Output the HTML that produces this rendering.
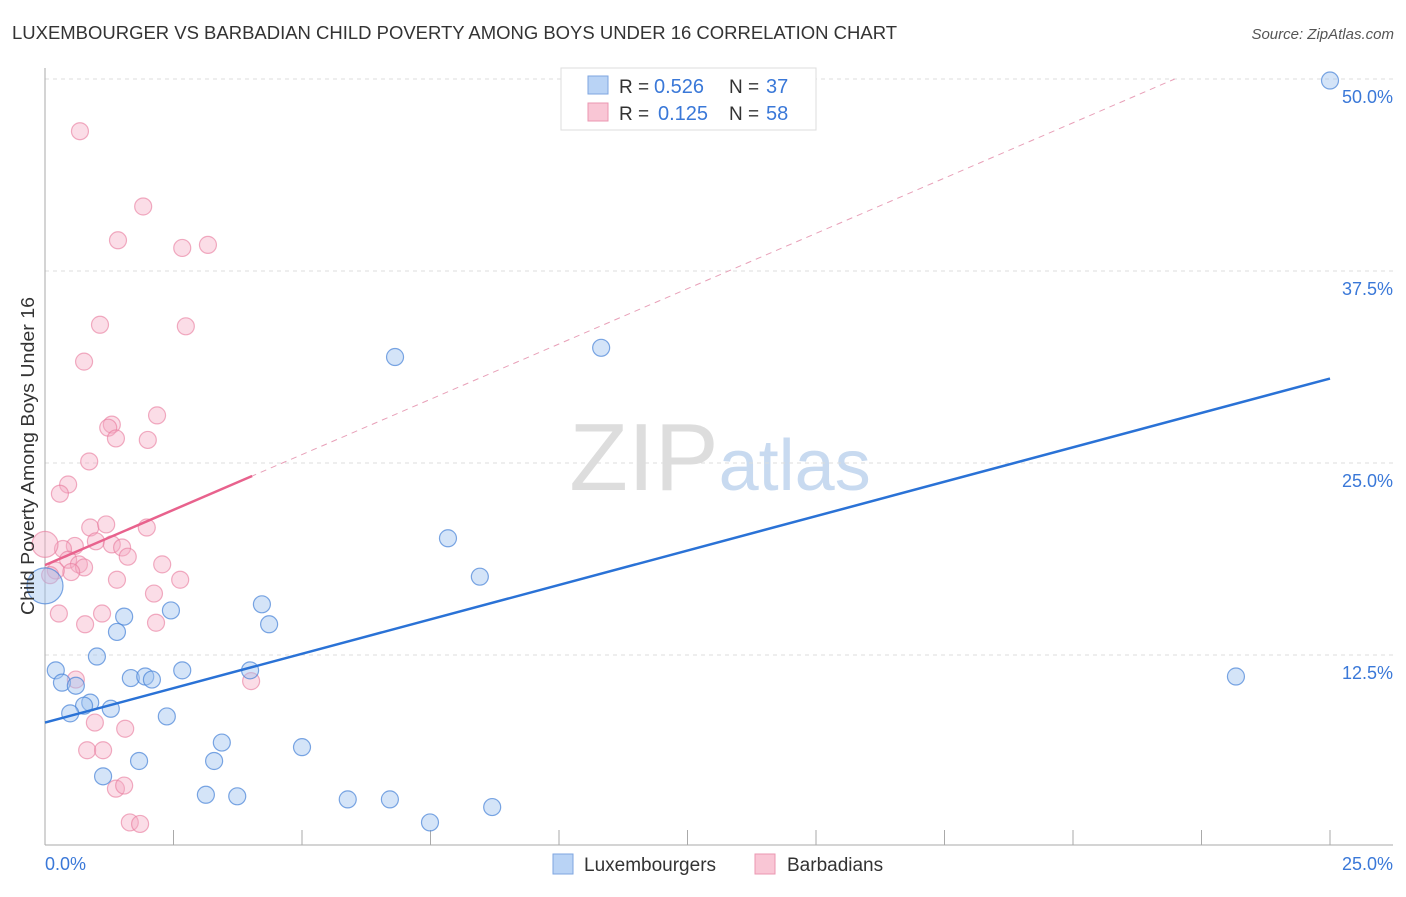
<!DOCTYPE html>
<html><head><meta charset="utf-8"><style>
body{margin:0;background:#fff;font-family:"Liberation Sans",sans-serif}
svg text{font-family:"Liberation Sans",sans-serif}
</style></head><body>
<svg id="chart" width="1406" height="892" viewBox="0 0 1406 892" xmlns="http://www.w3.org/2000/svg">
<text x="12" y="39" font-size="18" fill="#333" textLength="885" lengthAdjust="spacingAndGlyphs">LUXEMBOURGER VS BARBADIAN CHILD POVERTY AMONG BOYS UNDER 16 CORRELATION CHART</text>
<text x="1394" y="39" font-size="15" fill="#555" text-anchor="end" font-style="italic">Source: ZipAtlas.com</text>
<text x="720" y="490" font-size="96" fill="#ddd" text-anchor="middle" font-family="Liberation Serif">ZIP<tspan fill="#c8daf0" font-family="Liberation Sans" font-size="72">atlas</tspan></text>
<g id="grid"></g>
<g id="axes"></g>
<g id="marks"></g>
<text transform="translate(34,456) rotate(-90)" font-size="18" fill="#333" text-anchor="middle" textLength="318" lengthAdjust="spacingAndGlyphs">Child Poverty Among Boys Under 16</text>
<g>
<rect x="561" y="68" width="255" height="62" fill="#fff" stroke="#ddd"/>
<rect x="588" y="76" width="20" height="18" fill="#b9d3f5" stroke="#7ea6e0"/>
<rect x="588" y="103" width="20" height="18" fill="#f9c6d5" stroke="#eb97b1"/>
<text x="619" y="93" font-size="19" fill="#333">R =</text>
<text x="654" y="93" font-size="20" fill="#3a78d8">0.526</text>
<text x="729" y="93" font-size="19" fill="#333">N =</text>
<text x="766" y="93" font-size="20" fill="#3a78d8">37</text>
<text x="619" y="120" font-size="19" fill="#333">R =</text>
<text x="658" y="120" font-size="20" fill="#3a78d8">0.125</text>
<text x="729" y="120" font-size="19" fill="#333">N =</text>
<text x="766" y="120" font-size="20" fill="#3a78d8">58</text>
</g>
<g>
<rect x="553" y="854" width="20" height="20" fill="#b9d3f5" stroke="#7ea6e0"/>
<text x="584" y="871" font-size="19" fill="#333">Luxembourgers</text>
<rect x="755" y="854" width="20" height="20" fill="#f9c6d5" stroke="#eb97b1"/>
<text x="787" y="871" font-size="19" fill="#333">Barbadians</text>
</g>
</svg>
<script>
const blueX=[25.0,6.81,10.82,7.84,8.46,4.22,4.36,2.45,1.54,1.40,1.01,0.21,0.33,0.60,1.67,1.95,2.08,2.67,3.99,0.88,0.76,0.49,1.28,2.37,3.44,5.00,1.83,3.29,1.13,3.13,3.74,5.89,6.71,7.49,8.70,23.17,0];
const blueY=[49.9,31.9,32.5,20.1,17.6,15.8,14.5,15.4,15.0,14.0,12.4,11.5,10.7,10.5,11.0,11.1,10.9,11.5,11.5,9.4,9.2,8.7,9.0,8.5,6.8,6.5,5.6,5.6,4.6,3.4,3.3,3.1,3.1,1.6,2.6,11.1,17.0];
const pinkX=[0.68,1.91,1.42,2.67,3.17,1.07,2.74,0.76,2.18,1.30,1.23,1.38,2.00,0.86,0.45,0.29,0.88,1.19,1.98,0.99,1.30,1.50,1.61,0.58,0.35,0.45,0.66,0.76,0.51,0.21,0.10,2.28,1.40,2.63,2.12,0.27,1.11,0.78,2.16,4.01,0.60,0.97,1.56,0.82,1.13,1.38,1.54,1.65,1.85,0.0];
const pinkY=[46.6,41.7,39.5,39.0,39.2,34.0,33.9,31.6,28.1,27.5,27.3,26.6,26.5,25.1,23.6,23.0,20.8,21.0,20.8,19.9,19.7,19.5,18.9,19.6,19.4,18.7,18.4,18.2,17.9,18.0,17.7,18.4,17.4,17.4,16.5,15.2,15.2,14.5,14.6,10.8,10.9,8.1,7.7,6.3,6.3,3.8,4.0,1.6,1.5,19.7];
const yTicks=[12.5,25.0,37.5,50.0];
const xTickVals=[0,2.5,5,7.5,10,12.5,15,17.5,20,22.5,25];
const blueTrend=[8.1,30.5];
const pinkTrend=[18.35,1.44];
const NS="http://www.w3.org/2000/svg";
const sx=v=>45+v*1285/25, sy=v=>847-v*192/12.5;
function mk(tag,attrs,parent){const e=document.createElementNS(NS,tag);for(const k in attrs)e.setAttribute(k,attrs[k]);parent.appendChild(e);return e;}
const grid=document.getElementById('grid'),axes=document.getElementById('axes'),marks=document.getElementById('marks');
yTicks.forEach(t=>{
 const l=mk('line',{x1:45,x2:1393,y1:sy(t),y2:sy(t),stroke:'#ddd','stroke-dasharray':'4,4'},grid);
 
 
 const tx=mk('text',{x:1393,y:sy(t)+24,'font-size':18,fill:'#3a78d8','text-anchor':'end'},axes);
 tx.textContent=t.toFixed(1)+'%';
 
 
});
const ya=mk('line',{x1:45,x2:45,y1:68,y2:845,stroke:'#aaa'},axes);


const xa=mk('line',{x1:45,x2:1393,y1:845,y2:845,stroke:'#aaa'},axes);


xTickVals.forEach(t=>{
 const l=mk('line',{x1:sx(t),x2:sx(t),y1:830,y2:845,stroke:'#aaa'},axes);
 
 
});
[[0,'start',45],[25,'end',1393]].forEach(([v,a,x])=>{
 const tx=mk('text',{x:x,y:870,'font-size':18,fill:'#3a78d8','text-anchor':a},axes);
 tx.textContent=v.toFixed(1)+'%';
 
 
});
pinkX.forEach((x,i)=>{
 const c=mk('circle',{cx:sx(x),cy:sy(pinkY[i]),r:i===pinkX.length-1?13:8.5,fill:'rgba(246,170,195,0.4)',stroke:'rgba(232,120,155,0.6)','stroke-width':1.2},marks);
 
 
});
blueX.forEach((x,i)=>{
 const c=mk('circle',{cx:sx(x),cy:sy(blueY[i]),r:i===blueX.length-1?18:8.5,fill:'rgba(160,196,240,0.45)',stroke:'rgba(70,130,215,0.7)','stroke-width':1.2},marks);
 
 
});
const bt=mk('line',{x1:sx(0),y1:sy(blueTrend[0]),x2:sx(25),y2:sy(blueTrend[1]),stroke:'#2a72d6','stroke-width':2.5},marks);


const pf=x=>pinkTrend[0]+pinkTrend[1]*x;
const xEnd=(50-pinkTrend[0])/pinkTrend[1];
const pd=mk('line',{x1:sx(4),y1:sy(pf(4)),x2:sx(xEnd),y2:sy(50),stroke:'#e8a0b8','stroke-width':1,'stroke-dasharray':'6,5'},marks);


const ps=mk('line',{x1:sx(0),y1:sy(pf(0)),x2:sx(4.03),y2:sy(pf(4.03)),stroke:'#e8628d','stroke-width':2.5},marks);


</script>
</body></html>
